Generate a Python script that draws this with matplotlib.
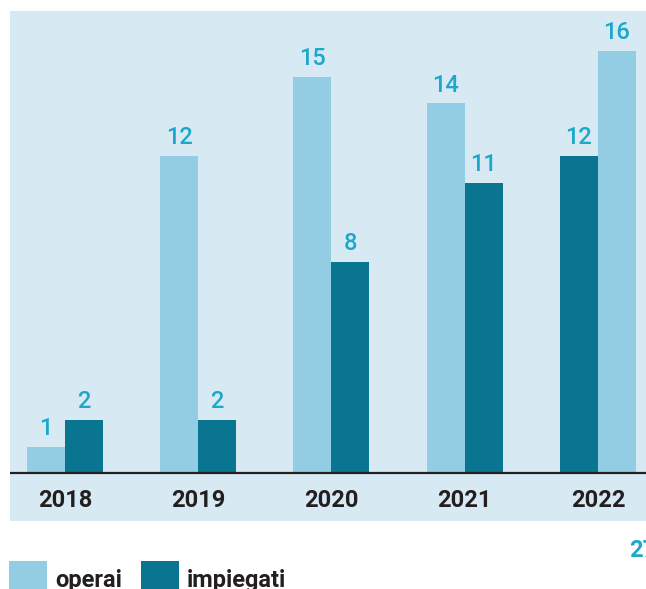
import matplotlib.pyplot as plt
from matplotlib.patches import Rectangle

# Dati
anni = ['2018', '2019', '2020', '2021', '2022']
operai = [1, 12, 15, 14, 16]
impiegati = [2, 2, 8, 11, 12]
# nel 2022 le barre sono invertite (impiegati a sinistra)
impiegati_prima = [False, False, False, False, True]
totale_taglio = '27'

c_operai = '#93cde3'
c_impiegati = '#0a7591'
c_sfondo = '#d7eaf3'
c_valori = '#1aa8cc'
c_testo = '#231f20'

plt.rcParams['font.family'] = ['Roboto', 'DejaVu Sans']

fig = plt.figure(figsize=(6.46, 5.89), dpi=100)
W, H = 646, 589
# pannello azzurro: x 10..646, y 11..521 (pixel)
ax = fig.add_axes([10 / W, 1 - 521 / H, (646 - 10) / W, (521 - 11) / H])
ax.set_facecolor(c_sfondo)
for s in ax.spines.values():
    s.set_visible(False)
ax.set_xticks([])
ax.set_yticks([])

px_unit = 26.4
ax.set_ylim(-48 / px_unit, 462 / px_unit)
passo = 133.25
ax.set_xlim((10 - 65) / passo, (646 - 65) / passo)

w = 38 / passo
x = list(range(len(anni)))
for i in x:
    if impiegati_prima[i]:
        pos_o, pos_i = i + w / 2, i - w / 2
    else:
        pos_o, pos_i = i - w / 2, i + w / 2
    ax.bar(pos_o, operai[i], width=w, color=c_operai, linewidth=0)
    ax.bar(pos_i, impiegati[i], width=w, color=c_impiegati, linewidth=0)
    for pos, v in [(pos_o, operai[i]), (pos_i, impiegati[i])]:
        ax.annotate(str(v), (pos, v), xytext=(0, 8.5), textcoords='offset points',
                    ha='center', va='baseline', fontsize=17, fontweight='medium',
                    color=c_valori)
    ax.text(i, -34 / px_unit, anni[i], ha='center', va='baseline',
            fontsize=17, fontweight='bold', color=c_testo)

ax.axhline(0, color=c_testo, linewidth=1.6)

# numero tagliato sul bordo destro
fig.text(629 / W, 1 - 557 / H, totale_taglio, ha='left', va='baseline',
         fontsize=17, fontweight='bold', color=c_valori)

# legenda
fig.patches.append(Rectangle((9 / W, 1 - 600 / H), 38 / W, 39 / H,
                             transform=fig.transFigure, color=c_operai, linewidth=0))
fig.patches.append(Rectangle((141 / W, 1 - 600 / H), 38 / W, 39 / H,
                             transform=fig.transFigure, color=c_impiegati, linewidth=0))
fig.text(55 / W, 1 - 587 / H, 'operai', ha='left', va='baseline',
         fontsize=17, fontweight='bold', color=c_testo)
fig.text(187 / W, 1 - 587 / H, 'impiegati', ha='left', va='baseline',
         fontsize=17, fontweight='bold', color=c_testo)

plt.savefig('out.png', dpi=100)
plt.close()
